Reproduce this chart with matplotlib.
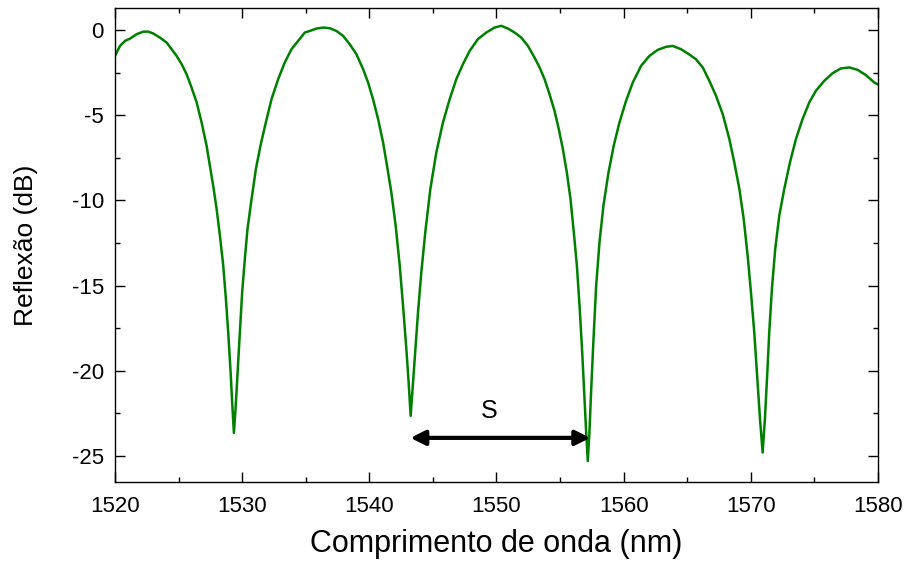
import matplotlib
matplotlib.use("Agg")
import matplotlib.pyplot as plt
from matplotlib.ticker import MultipleLocator

# comprimento de onda (nm) e reflexao (dB)
wl = [1520.00, 1520.39, 1520.79, 1521.18, 1521.70, 1522.23, 1522.62, 1523.01, 1523.53,
      1524.06, 1524.45, 1524.84, 1525.24, 1525.63, 1526.02, 1526.42, 1526.81, 1527.20,
      1527.46, 1527.72, 1527.99, 1528.25, 1528.51, 1528.72, 1528.90, 1529.09, 1529.24,
      1529.35, 1529.48, 1529.64, 1529.82, 1530.00, 1530.21, 1530.42, 1530.74, 1531.08,
      1531.44, 1531.86, 1532.31, 1532.83, 1533.35, 1533.88, 1534.40, 1534.93,
      1535.32, 1535.84, 1536.37, 1536.89, 1537.41, 1537.94, 1538.46, 1538.98, 1539.51,
      1539.90, 1540.29, 1540.69, 1541.08, 1541.39, 1541.73, 1542.07, 1542.39, 1542.65,
      1542.91, 1543.09, 1543.25, 1543.44, 1543.62, 1543.83, 1544.09, 1544.40, 1544.80,
      1545.27, 1545.79, 1546.32, 1546.84, 1547.36, 1547.89, 1548.54, 1549.20, 1549.85,
      1550.37, 1550.90, 1551.42, 1551.95, 1552.47, 1552.99, 1553.39, 1553.78, 1554.17,
      1554.56, 1554.90, 1555.22, 1555.53, 1555.82, 1556.08, 1556.32, 1556.53, 1556.74,
      1556.92, 1557.05, 1557.18, 1557.31, 1557.44, 1557.63, 1557.84, 1558.10, 1558.41,
      1558.81, 1559.22, 1559.67, 1560.19, 1560.72, 1561.37, 1562.03, 1562.68, 1563.34,
      1563.86, 1564.51, 1565.12, 1565.69, 1566.22, 1566.74, 1567.26, 1567.79, 1568.31,
      1568.70, 1569.10, 1569.44, 1569.75, 1570.01, 1570.27, 1570.48, 1570.72, 1570.93,
      1571.11, 1571.30, 1571.45, 1571.66, 1571.92, 1572.24, 1572.63, 1573.08, 1573.55,
      1574.07, 1574.60, 1575.12, 1575.77, 1576.43, 1577.08, 1577.74, 1578.39, 1579.05,
      1579.70, 1580.00]
refl = [-1.52, -0.94, -0.64, -0.51, -0.25, -0.10, -0.10, -0.21, -0.45,
        -0.74, -1.13, -1.52, -2.01, -2.60, -3.38, -4.25, -5.43, -6.79,
        -7.97, -9.14, -10.50, -12.07, -13.82, -15.78, -17.73, -20.07, -22.22,
        -23.65, -22.22, -20.07, -17.73, -15.39, -13.43, -11.68, -9.92, -8.16,
        -6.79, -5.43, -4.06, -2.89, -1.91, -1.13, -0.64, -0.15,
        -0.06, 0.08, 0.14, 0.10, -0.06, -0.35, -0.84, -1.42, -2.30,
        -3.08, -4.06, -5.23, -6.60, -7.97, -9.53, -11.48, -13.82, -16.17,
        -18.71, -20.66, -22.65, -20.66, -18.71, -16.56, -14.21, -11.87, -9.33,
        -7.18, -5.43, -4.06, -2.89, -2.01, -1.23, -0.54, -0.15, 0.14,
        0.24, 0.08, -0.15, -0.45, -0.94, -1.62, -2.20, -2.89, -3.77,
        -4.74, -5.82, -6.99, -8.36, -9.92, -11.87, -13.82, -16.17, -18.90,
        -21.63, -23.59, -25.30, -23.59, -21.24, -18.12, -14.99, -12.46, -10.31,
        -8.36, -6.79, -5.43, -4.16, -3.08, -2.11, -1.52, -1.17, -0.99,
        -0.94, -1.13, -1.42, -1.72, -2.20, -2.99, -3.86, -4.94, -6.40,
        -7.77, -9.33, -11.09, -13.24, -15.39, -17.73, -20.07, -22.81, -24.80,
        -22.81, -20.07, -17.73, -15.19, -12.85, -10.89, -9.33, -7.77, -6.40,
        -5.23, -4.25, -3.57, -2.99, -2.54, -2.26, -2.20, -2.34, -2.65,
        -3.08, -3.20]

# seta do periodo S
s_start = 1543.23
s_end = 1557.37
s_y = -23.94
s_label = "S"
s_label_x = 1549.4
s_label_y = -22.34

plt.rcParams['font.family'] = ['Liberation Sans', 'DejaVu Sans']
plt.rcParams['axes.unicode_minus'] = False

fig = plt.figure(figsize=(9.07, 5.68), dpi=100)
ax = fig.add_axes([0.1268, 0.1514, 0.8412, 0.8346])

ax.plot(wl, refl, color='#008000', lw=1.8)

ax.annotate('', xy=(s_start, s_y), xytext=(s_end, s_y),
            arrowprops=dict(arrowstyle='<|-|>', color='black', lw=3,
                            mutation_scale=22, shrinkA=0, shrinkB=0))
ax.text(s_label_x, s_label_y, s_label, fontsize=18, ha='center', va='center')

ax.set_xlim(1520, 1580)
ax.set_ylim(-26.53, 1.29)
ax.xaxis.set_major_locator(MultipleLocator(10))
ax.xaxis.set_minor_locator(MultipleLocator(5))
ax.yaxis.set_major_locator(MultipleLocator(5))
ax.yaxis.set_minor_locator(MultipleLocator(2.5))
ax.tick_params(which='both', direction='in', top=True, right=True, width=1)
ax.tick_params(which='major', length=7, labelsize=16)
ax.tick_params(which='minor', length=3.6)
ax.tick_params(axis='x', which='major', pad=10)
ax.tick_params(axis='y', which='major', pad=8)
for sp in ax.spines.values():
    sp.set_linewidth(1)

ax.set_xlabel('Comprimento de onda (nm)', fontsize=22, labelpad=9)
ax.set_ylabel('Reflexão (dB)', fontsize=19, labelpad=24)

fig.savefig('out.png', dpi=100)
